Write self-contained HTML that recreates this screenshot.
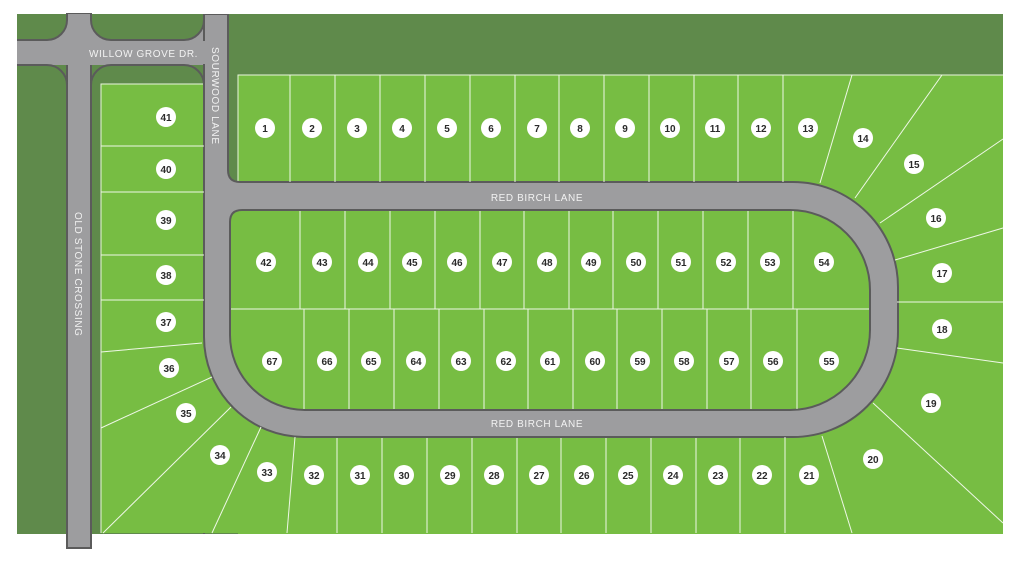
<!DOCTYPE html>
<html><head><meta charset="utf-8"><style>
html,body{margin:0;padding:0;background:#fff;width:1024px;height:565px;overflow:hidden}
svg{display:block}
.n{font-family:"Liberation Sans",sans-serif;font-weight:bold;font-size:10px;fill:#2a2a2a;text-anchor:middle}
.r{font-family:"Liberation Sans",sans-serif;font-size:10px;fill:#f2f2f2;letter-spacing:0.6px}
</style></head><body>
<svg width="1024" height="565" viewBox="0 0 1024 565" xmlns="http://www.w3.org/2000/svg">
<defs><clipPath id="m"><rect x="17" y="14" width="986" height="520"/></clipPath></defs>
<rect x="17" y="14" width="986" height="520" fill="#5f8a4b"/>
<rect x="67" y="14" width="24" height="534" fill="#9d9d9f" stroke="#5b5b5b" stroke-width="2"/>
<g clip-path="url(#m)">
<rect x="17" y="14" width="211" height="51" fill="#9d9d9f"/>
<g fill="#5f8a4b" stroke="#5b5b5b" stroke-width="2">
<rect x="-20" y="-20" width="87" height="60" rx="20"/>
<rect x="91" y="-20" width="113" height="60" rx="20"/>
<rect x="-20" y="65" width="87" height="600" rx="20"/>
<rect x="91" y="65" width="113" height="600" rx="20"/>
</g>
<rect x="101" y="84" width="103" height="449" fill="#77bd43"/>
<rect x="238" y="75" width="770" height="462" fill="#77bd43"/>
<rect x="101" y="300" width="902" height="233" fill="#77bd43"/>
<path d="M101,533V84H204M238,182V75H1003" fill="none" stroke="#e8f5dc" stroke-width="1"/>
<path d="M204,14 L228,14 L228,170 Q228,182 240,182 L793,182 A105,105 0 0 1 898,287 L898,332 A105,105 0 0 1 793,437 L304,437 A100,100 0 0 1 204,337 Z" fill="#9d9d9f" stroke="#5b5b5b" stroke-width="2"/>
<rect x="200" y="41" width="10" height="23" fill="#9d9d9f"/>
<rect x="203" y="12" width="26" height="2" fill="#5f8a4b"/>
</g>
<path d="M242,210 L790,210 A80,80 0 0 1 870,290 L870,330 A80,80 0 0 1 790,410 L305,410 A75,75 0 0 1 230,335 L230,222 Q230,210 242,210 Z" fill="#77bd43" stroke="#5b5b5b" stroke-width="2"/>
<g stroke="#eef7e6" stroke-width="1" fill="none">
<path d="M290,75V182M335,75V182M380,75V182M425,75V182M470,75V182M515,75V182M559,75V182M604,75V182M649,75V182M694,75V182M738,75V182M783,75V182"/>
<path d="M820,183L852,75M855,198L942,75M880,223L1003,139M895,260L1003,228M897,302L1003,302M897,348L1003,363M873,403L1003,523M822,436L852,533M785,437V533"/>
<path d="M231,309H869"/>
<path d="M300,211V309M345,211V309M390,211V309M435,211V309M480,211V309M524,211V309M569,211V309M613,211V309M658,211V309M703,211V309M748,211V309M793,211V309"/>
<path d="M304,309V409M349,309V409M394,309V409M439,309V409M484,309V409M528,309V409M573,309V409M617,309V409M662,309V409M707,309V409M751,309V409M797,309V409"/>
<path d="M337,438V533M382,438V533M427,438V533M472,438V533M517,438V533M561,438V533M606,438V533M651,438V533M696,438V533M740,438V533"/>
<path d="M295,437L287,533M261,427L212,533M231,407L103,533M212,377L101,428M202,343L101,352M101,300H204M101,255H204M101,192H204M101,146H204"/>
</g>
<g fill="#fff">
<circle cx="265" cy="128" r="10"/><circle cx="312" cy="128" r="10"/><circle cx="357" cy="128" r="10"/><circle cx="402" cy="128" r="10"/><circle cx="447" cy="128" r="10"/><circle cx="491" cy="128" r="10"/><circle cx="537" cy="128" r="10"/><circle cx="580" cy="128" r="10"/><circle cx="625" cy="128" r="10"/><circle cx="670" cy="128" r="10"/><circle cx="715" cy="128" r="10"/><circle cx="761" cy="128" r="10"/><circle cx="808" cy="128" r="10"/><circle cx="863" cy="138" r="10"/><circle cx="914" cy="164" r="10"/><circle cx="936" cy="218" r="10"/><circle cx="942" cy="273" r="10"/><circle cx="942" cy="329" r="10"/><circle cx="931" cy="403" r="10"/><circle cx="873" cy="459" r="10"/><circle cx="809" cy="475" r="10"/>
<circle cx="762" cy="475" r="10"/><circle cx="718" cy="475" r="10"/><circle cx="673" cy="475" r="10"/><circle cx="628" cy="475" r="10"/><circle cx="584" cy="475" r="10"/><circle cx="539" cy="475" r="10"/><circle cx="494" cy="475" r="10"/><circle cx="450" cy="475" r="10"/><circle cx="404" cy="475" r="10"/><circle cx="360" cy="475" r="10"/><circle cx="314" cy="475" r="10"/><circle cx="267" cy="472" r="10"/><circle cx="220" cy="455" r="10"/><circle cx="186" cy="413" r="10"/><circle cx="169" cy="368" r="10"/><circle cx="166" cy="322" r="10"/><circle cx="166" cy="275" r="10"/><circle cx="166" cy="220" r="10"/><circle cx="166" cy="169" r="10"/><circle cx="166" cy="117" r="10"/>
<circle cx="266" cy="262" r="10"/><circle cx="322" cy="262" r="10"/><circle cx="368" cy="262" r="10"/><circle cx="412" cy="262" r="10"/><circle cx="457" cy="262" r="10"/><circle cx="502" cy="262" r="10"/><circle cx="547" cy="262" r="10"/><circle cx="591" cy="262" r="10"/><circle cx="636" cy="262" r="10"/><circle cx="681" cy="262" r="10"/><circle cx="726" cy="262" r="10"/><circle cx="770" cy="262" r="10"/><circle cx="824" cy="262" r="10"/>
<circle cx="272" cy="361" r="10"/><circle cx="327" cy="361" r="10"/><circle cx="371" cy="361" r="10"/><circle cx="416" cy="361" r="10"/><circle cx="461" cy="361" r="10"/><circle cx="506" cy="361" r="10"/><circle cx="550" cy="361" r="10"/><circle cx="595" cy="361" r="10"/><circle cx="640" cy="361" r="10"/><circle cx="684" cy="361" r="10"/><circle cx="729" cy="361" r="10"/><circle cx="773" cy="361" r="10"/><circle cx="829" cy="361" r="10"/>
</g>
<g class="n">
<text x="265" y="132">1</text><text x="312" y="132">2</text><text x="357" y="132">3</text><text x="402" y="132">4</text><text x="447" y="132">5</text><text x="491" y="132">6</text><text x="537" y="132">7</text><text x="580" y="132">8</text><text x="625" y="132">9</text><text x="670" y="132">10</text><text x="715" y="132">11</text><text x="761" y="132">12</text><text x="808" y="132">13</text><text x="863" y="142">14</text><text x="914" y="168">15</text><text x="936" y="222">16</text><text x="942" y="277">17</text><text x="942" y="333">18</text><text x="931" y="407">19</text><text x="873" y="463">20</text><text x="809" y="479">21</text>
<text x="762" y="479">22</text><text x="718" y="479">23</text><text x="673" y="479">24</text><text x="628" y="479">25</text><text x="584" y="479">26</text><text x="539" y="479">27</text><text x="494" y="479">28</text><text x="450" y="479">29</text><text x="404" y="479">30</text><text x="360" y="479">31</text><text x="314" y="479">32</text><text x="267" y="476">33</text><text x="220" y="459">34</text><text x="186" y="417">35</text><text x="169" y="372">36</text><text x="166" y="326">37</text><text x="166" y="279">38</text><text x="166" y="224">39</text><text x="166" y="173">40</text><text x="166" y="121">41</text>
<text x="266" y="266">42</text><text x="322" y="266">43</text><text x="368" y="266">44</text><text x="412" y="266">45</text><text x="457" y="266">46</text><text x="502" y="266">47</text><text x="547" y="266">48</text><text x="591" y="266">49</text><text x="636" y="266">50</text><text x="681" y="266">51</text><text x="726" y="266">52</text><text x="770" y="266">53</text><text x="824" y="266">54</text>
<text x="829" y="365">55</text><text x="773" y="365">56</text><text x="729" y="365">57</text><text x="684" y="365">58</text><text x="640" y="365">59</text><text x="595" y="365">60</text><text x="550" y="365">61</text><text x="506" y="365">62</text><text x="461" y="365">63</text><text x="416" y="365">64</text><text x="371" y="365">65</text><text x="327" y="365">66</text><text x="272" y="365">67</text>
</g>
<text class="r" x="89" y="57">WILLOW GROVE DR.</text>
<text class="r" x="537" y="201" text-anchor="middle">RED BIRCH LANE</text>
<text class="r" x="537" y="427" text-anchor="middle">RED BIRCH LANE</text>
<text class="r" transform="translate(212,47) rotate(90)">SOURWOOD LANE</text>
<text class="r" transform="translate(75,212) rotate(90)">OLD STONE CROSSING</text>
</svg>
</body></html>
